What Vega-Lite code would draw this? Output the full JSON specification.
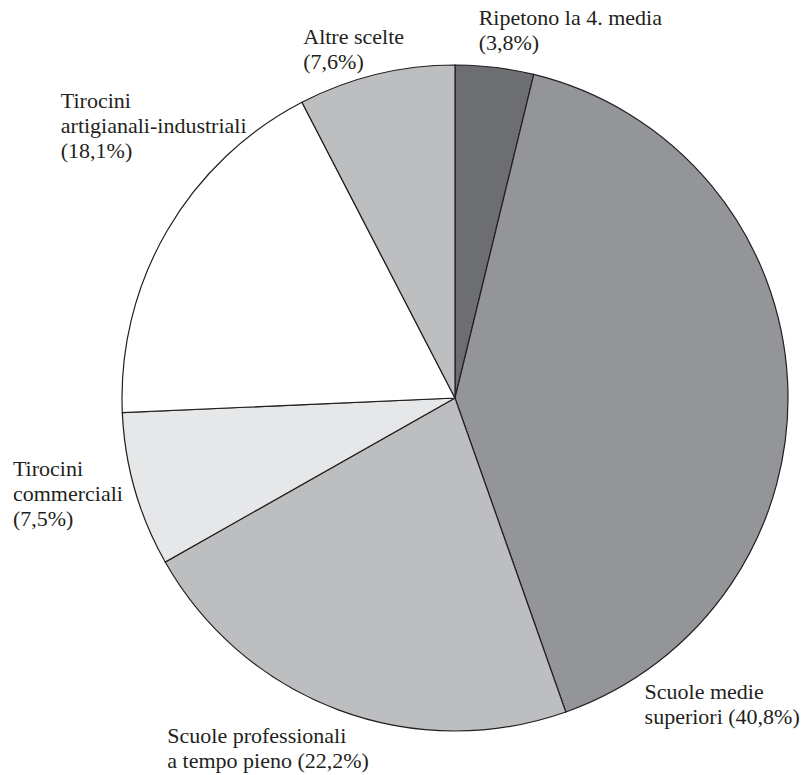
{
  "$schema": "https://vega.github.io/schema/vega-lite/v6.json",
  "width": 666,
  "height": 666,
  "autosize": {"type": "none"},
  "padding": {"left": 122, "top": 65, "right": 16, "bottom": 44},
  "background": "white",
  "config": {"view": {"stroke": null}, "text": {"font": "Liberation Serif, Times New Roman, serif", "fontSize": 22, "lineHeight": 25, "fill": "#231f20", "align": "left", "baseline": "alphabetic"}},
  "data": {
    "values": [
      {"idx": 1, "cat": "Ripetono la 4. media", "value": 3.8, "label": "Ripetono la 4. media\n(3,8%)"},
      {"idx": 2, "cat": "Scuole medie superiori", "value": 40.8, "label": "Scuole medie\nsuperiori (40,8%)"},
      {"idx": 3, "cat": "Scuole professionali a tempo pieno", "value": 22.2, "label": "Scuole professionali\na tempo pieno (22,2%)"},
      {"idx": 4, "cat": "Tirocini commerciali", "value": 7.5, "label": "Tirocini\ncommerciali\n(7,5%)"},
      {"idx": 5, "cat": "Tirocini artigianali-industriali", "value": 18.1, "label": "Tirocini\nartigianali-industriali\n(18,1%)"},
      {"idx": 6, "cat": "Altre scelte", "value": 7.6, "label": "Altre scelte\n(7,6%)"}
    ]
  },
  "encoding": {
    "theta": {"field": "value", "type": "quantitative", "stack": true},
    "order": {"field": "idx", "type": "quantitative"},
    "detail": {"field": "cat", "type": "nominal"}
  },
  "layer": [
    {
      "mark": {"type": "arc", "stroke": "#231f20", "strokeWidth": 1.2},
      "encoding": {
        "color": {
          "field": "cat",
          "type": "nominal",
          "legend": null,
          "scale": {
            "domain": ["Ripetono la 4. media", "Scuole medie superiori", "Scuole professionali a tempo pieno", "Tirocini commerciali", "Tirocini artigianali-industriali", "Altre scelte"],
            "range": ["#6d6e71", "#939598", "#bcbec0", "#e6e7e8", "#ffffff", "#bcbec0"]
          }
        }
      }
    },
    {
      "mark": {"type": "text", "lineBreak": "\n", "dx": -16, "dy": -42},
      "encoding": {
        "radius": {"value": 333},
        "text": {"condition": {"test": "datum.cat === 'Ripetono la 4. media'", "field": "label", "type": "nominal"}, "value": ""}
      }
    },
    {
      "mark": {"type": "text", "lineBreak": "\n", "dx": -143, "dy": 318},
      "encoding": {
        "radius": {"value": 333},
        "text": {"condition": {"test": "datum.cat === 'Scuole medie superiori'", "field": "label", "type": "nominal"}, "value": ""}
      }
    },
    {
      "mark": {"type": "text", "lineBreak": "\n", "dx": -171, "dy": 33},
      "encoding": {
        "radius": {"value": 333},
        "text": {"condition": {"test": "datum.cat === 'Scuole professionali a tempo pieno'", "field": "label", "type": "nominal"}, "value": ""}
      }
    },
    {
      "mark": {"type": "text", "lineBreak": "\n", "dx": -122, "dy": -14},
      "encoding": {
        "radius": {"value": 333},
        "text": {"condition": {"test": "datum.cat === 'Tirocini commerciali'", "field": "label", "type": "nominal"}, "value": ""}
      }
    },
    {
      "mark": {"type": "text", "lineBreak": "\n", "dx": -106, "dy": -123},
      "encoding": {
        "radius": {"value": 333},
        "text": {"condition": {"test": "datum.cat === 'Tirocini artigianali-industriali'", "field": "label", "type": "nominal"}, "value": ""}
      }
    },
    {
      "mark": {"type": "text", "lineBreak": "\n", "dx": -73, "dy": -30},
      "encoding": {
        "radius": {"value": 333},
        "text": {"condition": {"test": "datum.cat === 'Altre scelte'", "field": "label", "type": "nominal"}, "value": ""}
      }
    }
  ]
}
